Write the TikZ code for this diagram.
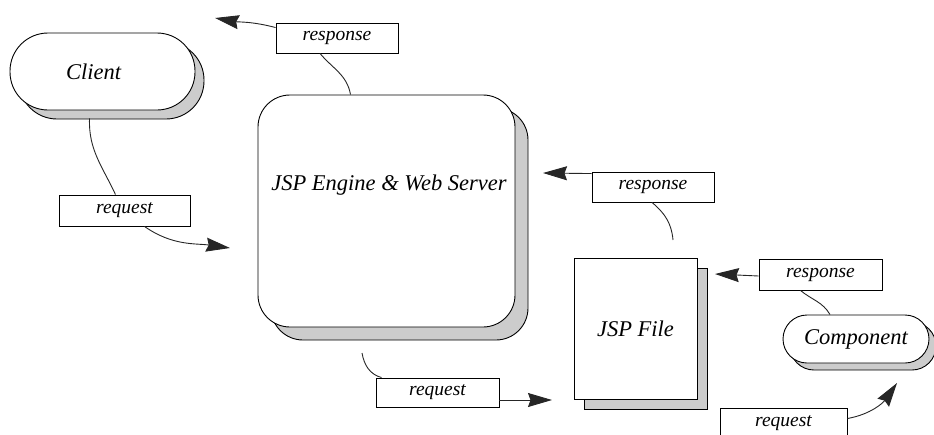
\documentclass[tikz,border=0pt]{standalone}
\usepackage{fontspec}
\setmainfont{Liberation Serif}
\usetikzlibrary{arrows.meta,shadows,calc}
\begin{document}
\begin{tikzpicture}[x=1pt,y=-1pt,
  line width=0.9pt,
  shadowed/.style={draw=black, fill=white, line width=0.9pt,
    copy shadow={shadow xshift=#1, shadow yshift=-#1, fill=gray!40, draw=black, line width=0.9pt}},
  mainbox/.style={inner sep=0pt, font=\itshape\fontsize{22.5}{24}\selectfont},
  msgbox/.style={draw=black, fill=white, inner sep=0pt, minimum width=122pt, minimum height=30pt,
    font=\itshape\fontsize{19.5}{21}\selectfont},
  conn/.style={draw=black!85, line width=0.9pt},
  arr/.style={conn, -{Stealth[length=24pt,width=14pt,inset=2.5pt]}},
]
\useasboundingbox (0,0) rectangle (934,434);
% main nodes
\node[mainbox, shadowed=9pt, minimum width=185pt, minimum height=77pt, rounded corners=38pt]
  (client) at (102.5,71.5) {\hspace*{-18pt}Client};
\node[mainbox, shadowed=13pt, minimum width=257pt, minimum height=232pt, rounded corners=32pt]
  (engine) at (386.5,211) {};
\node[mainbox] (enginetext) at (389,185) {JSP Engine \& Web Server};
\node[mainbox, shadowed=10pt, minimum width=123pt, minimum height=141pt]
  (jsp) at (635.5,328.5) {JSP File};
\node[mainbox, shadowed=7pt, minimum width=146pt, minimum height=48pt, rounded corners=24pt]
  (comp) at (856,339) {Component};
% message boxes
\node[msgbox] (resp1) at (337,38) {response};
\node[msgbox, minimum width=131pt, minimum height=31pt] (req1) at (124.5,210.5) {request};
\node[msgbox] (resp2) at (653,187) {response};
\node[msgbox, minimum width=123pt, minimum height=31pt] (resp3) at (820.5,274.5) {response};
\node[msgbox, minimum width=123pt, minimum height=29pt] (req2) at (437.5,392.5) {request};
\node[msgbox, minimum width=127pt, minimum height=31pt] (req3) at (783.5,423.5) {request};
% free ends
\coordinate (tip1) at (215,18);
\coordinate (tip2) at (230,248);
\coordinate (tip3) at (543,173);
\coordinate (tip4) at (715,274);
\coordinate (tip5) at (552,400);
\coordinate (tip6) at (897,383);
\coordinate (end2) at (673,240);
\coordinate (start5) at (362,353);
% connectors
\draw[conn] ($(client.south)+(-13,8)$) to[out=-92,in=115] ($(req1.north)+(-9,0)$);
\draw[arr] ($(req1.south)+(20,0)$) to[out=-35,in=172] (tip2);
\draw[conn] ($(resp1.south)+(-17,0)$) to[out=-50,in=100] ($(engine.north)+(-36,0)$);
\draw[arr] ($(resp1.north west)+(0,5)$) to[out=165,in=-10] (tip1);
\draw[arr] ($(resp2.north west)+(0,2)$) -- (tip3);
\draw[conn] ($(resp2.south)+(-1,0)$) to[out=-40,in=95] (end2);
\draw[arr] ($(resp3.west)+(0,1.5)$) -- (tip4);
\draw[conn] ($(resp3.south)+(-20,0)$) to[out=-40,in=120] ($(comp.north)+(-26,0)$);
\draw[conn] (start5) to[out=-80,in=165] ($(req2.north west)+(6,0)$);
\draw[arr] ($(req2.east)+(0,7.5)$) -- (tip5);
\draw[arr] ($(req3.east)+(0,-5)$) to[out=10,in=-125] (tip6);
\end{tikzpicture}
\end{document}
